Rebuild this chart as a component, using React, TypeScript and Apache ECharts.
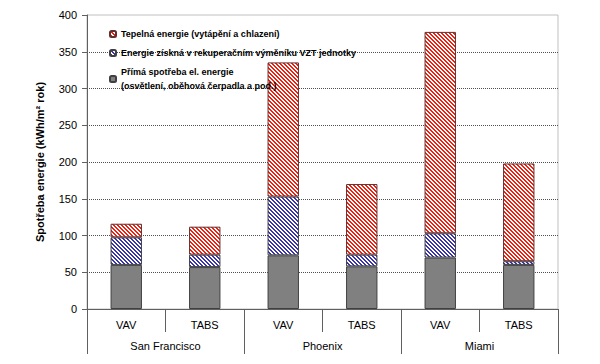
import React, { useEffect, useRef } from "react";
import * as echarts from "echarts";

const categories = ["VAV", "TABS", "VAV", "TABS", "VAV", "TABS"];
const groups = ["San Francisco", "Phoenix", "Miami"];
const directUse = [60, 57, 73, 58, 70, 60];
const recovered = [37.5, 17, 80, 16, 33, 5];
const thermal = [18.5, 38, 182.5, 96, 274, 133];
const seriesNames = [
  "Přímá spotřeba el. energie\n(osvětlení, oběhová čerpadla a pod.)",
  "Energie získná v rekuperačním výměníku VZT jednotky",
  "Tepelná energie (vytápění a chlazení)",
];

function stripePattern(color: string) {
  const size = 4;
  const c = document.createElement("canvas");
  c.width = size;
  c.height = size;
  const ctx = c.getContext("2d")!;
  ctx.fillStyle = "#ffffff";
  ctx.fillRect(0, 0, size, size);
  ctx.fillStyle = color;
  for (let y = 0; y < size; y++) {
    for (let x = 0; x < size; x++) {
      if ((x - y + size * 2) % size < 2) ctx.fillRect(x, y, 1, 1);
    }
  }
  return { image: c, repeat: "repeat" } as any;
}

export default function App() {
  const ref = useRef<HTMLDivElement>(null);
  useEffect(() => {
    if (!ref.current) return;
    const chart = echarts.init(ref.current, null, { renderer: "svg" });
    const font = "Liberation Sans, Arial, sans-serif";
    const border = { borderColor: "#404040", borderWidth: 1 };
    chart.setOption({
      animation: false,
      textStyle: { fontFamily: font },
      grid: {
        left: 87,
        right: 42,
        top: 15,
        bottom: 55,
        show: true,
        borderColor: "#c0c0c0",
        borderWidth: 1,
      },
      legend: {
        orient: "vertical",
        left: 104,
        top: 22,
        itemWidth: 6,
        itemHeight: 6,
        itemGap: 5,
        data: [seriesNames[2], seriesNames[1], seriesNames[0]],
        textStyle: {
          fontSize: 9,
          fontWeight: "bold",
          color: "#000",
          lineHeight: 14,
          fontFamily: font,
        },
      },
      xAxis: [
        {
          type: "category",
          data: categories,
          position: "bottom",
          axisLine: { lineStyle: { color: "#606060" } },
          axisTick: { show: true, interval: 0, length: 23, lineStyle: { color: "#606060" } },
          axisLabel: { interval: 0, margin: 10, fontSize: 11, color: "#000", fontFamily: font },
        },
        {
          type: "category",
          data: groups,
          position: "bottom",
          axisLine: { show: false },
          axisTick: { show: true, interval: 0, length: 45, lineStyle: { color: "#606060" } },
          axisLabel: { interval: 0, margin: 31, fontSize: 11, color: "#000", fontFamily: font },
        },
      ],
      yAxis: {
        type: "value",
        min: 0,
        max: 400,
        interval: 50,
        name: "Spotřeba energie (kWh/m² rok)",
        nameLocation: "middle",
        nameRotate: 90,
        nameGap: 42,
        nameTextStyle: { fontSize: 11, fontWeight: "bold", color: "#000", fontFamily: font },
        axisLine: { show: true, lineStyle: { color: "#606060" } },
        axisTick: { show: true, length: 5, lineStyle: { color: "#606060" } },
        axisLabel: { fontSize: 11, color: "#000", margin: 10, fontFamily: font },
        splitLine: {
          show: true,
          showMaxLine: false,
          lineStyle: { color: "#505050", type: "dotted", width: 1 },
        },
      },
      series: [
        {
          name: seriesNames[0],
          type: "bar",
          stack: "total",
          barWidth: "40%",
          data: directUse,
          itemStyle: { color: "#808080", ...border },
        },
        {
          name: seriesNames[1],
          type: "bar",
          stack: "total",
          barWidth: "40%",
          data: recovered,
          itemStyle: { color: stripePattern("#3a35a8"), ...border },
        },
        {
          name: seriesNames[2],
          type: "bar",
          stack: "total",
          barWidth: "40%",
          data: thermal,
          itemStyle: { color: stripePattern("#f02010"), borderColor: "#603030", borderWidth: 1 },
        },
      ],
    });
    return () => chart.dispose();
  }, []);
  return <div ref={ref} style={{ width: 600, height: 364, position: "absolute", left: 0, top: 0 }} />;
}
